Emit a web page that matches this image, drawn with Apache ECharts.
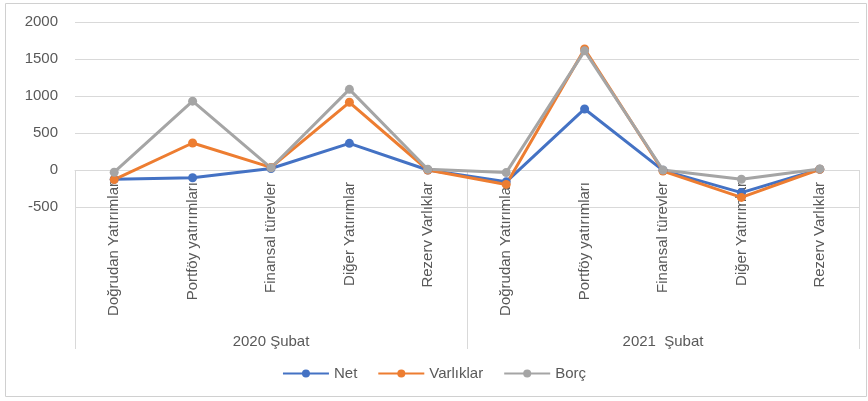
<!DOCTYPE html>
<html><head><meta charset="utf-8">
<script src="https://cdn.jsdelivr.net/npm/echarts@6/dist/echarts.min.js"></script>
<style>html,body{margin:0;padding:0;background:#fff}#c{width:868px;height:401px}</style>
</head><body><div id="c"></div>
<script>
const categories = ['Doğrudan Yatırımlar','Portföy yatırımları','Finansal türevler','Diğer Yatırımlar','Rezerv Varlıklar',
                    'Doğrudan Yatırımlar','Portföy yatırımları','Finansal türevler','Diğer Yatırımlar','Rezerv Varlıklar'];
const groups = ['2020 Şubat','2021  Şubat'];
const net = [-125, -105, 20, 360, 0, -160, 825, -5, -305, 10];
const varliklar = [-130, 365, 35, 915, 0, -195, 1635, -15, -370, 10];
const borc = [-30, 930, 30, 1090, 10, -35, 1610, 0, -125, 15];
const yTicks = {min: -500, max: 2000, interval: 500};

const txt = '#595959', grid = '#D9D9D9';
const font = 'Liberation Sans, Arial, sans-serif';
function mk(name, data, color) {
  return {name, type:'line', data, xAxisIndex:0, symbol:'circle', symbolSize:9,
    lineStyle:{width:3, color}, itemStyle:{color}, color};
}
const chart = echarts.init(document.getElementById('c'));
chart.setOption({
  animation:false,
  textStyle:{fontFamily:font},
  graphic:[{type:'rect', shape:{x:5.5,y:3.5,width:861,height:393}, style:{fill:'none', stroke:'#D0D0D0', lineWidth:1}, silent:true}],
  grid:{left:75, right:9, top:22, bottom:194},
  legend:{bottom:15, left:'center', itemWidth:46, itemHeight:10, itemGap:20,
    textStyle:{color:txt, fontSize:15, fontFamily:font}, data:['Net','Varlıklar','Borç']},
  xAxis:[
    {type:'category', data:categories, boundaryGap:true, position:'bottom', offset:-37,
     axisLine:{show:true, onZero:false, lineStyle:{color:grid}}, axisTick:{show:false},
     axisLabel:{rotate:90, margin:12, color:txt, fontSize:15, fontFamily:font, interval:0}},
    {type:'category', data:groups, position:'bottom', boundaryGap:true, offset:-37,
     axisLine:{show:false, onZero:false},
     axisTick:{show:true, length:179, lineStyle:{color:grid}},
     axisLabel:{margin:164, color:txt, fontSize:15, fontFamily:font}}
  ],
  yAxis:{type:'value', min:yTicks.min, max:yTicks.max, interval:yTicks.interval,
    axisLine:{show:false}, axisTick:{show:false},
    axisLabel:{color:txt, fontSize:15, margin:17, fontFamily:font, formatter:v=>String(v)},
    splitLine:{lineStyle:{color:grid, width:1}}},
  series:[mk('Net', net, '#4472C4'), mk('Varlıklar', varliklar, '#ED7D31'), mk('Borç', borc, '#A5A5A5')]
});
</script></body></html>
